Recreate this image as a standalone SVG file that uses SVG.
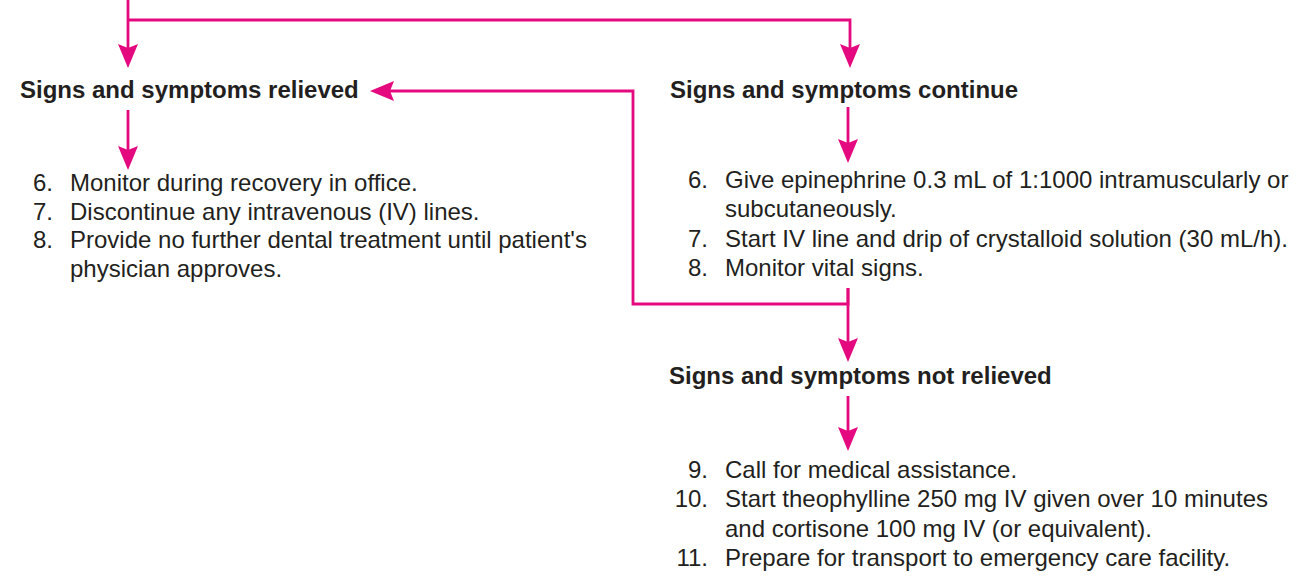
<svg xmlns="http://www.w3.org/2000/svg" width="1313" height="582" viewBox="0 0 1313 582">
  <style>
    .h { font-family: "Liberation Sans", Arial, Helvetica, sans-serif; font-size: 24px; font-weight: bold; fill: #231f20; }
    .t { font-family: "Liberation Sans", Arial, Helvetica, sans-serif; font-size: 24px; fill: #231f20; }
    .n { text-anchor: end; }
    .c { fill: none; stroke: #e5097f; stroke-width: 2.8; }
  </style>
  <defs>
    <marker id="ah" viewBox="-14 -10 24 20" markerWidth="24" markerHeight="20" refX="0" refY="0" orient="auto" markerUnits="userSpaceOnUse">
      <path d="M10,0 L-14,-10 L-10,0 L-14,10 Z" fill="#e5097f"/>
    </marker>
  </defs>
  <rect width="1313" height="582" fill="#ffffff"/>

  <g id="connectors">
    <path class="c" d="M128,0 V58" marker-end="url(#ah)"/>
    <path class="c" d="M128,20 H850 V58" marker-end="url(#ah)"/>
    <path class="c" d="M128,110 V160" marker-end="url(#ah)"/>
    <path class="c" d="M848,107 V153" marker-end="url(#ah)"/>
    <path class="c" d="M848,288 V304 H633 V91 H380" marker-end="url(#ah)"/>
    <path class="c" d="M848,288 V352" marker-end="url(#ah)"/>
    <path class="c" d="M848,396 V441" marker-end="url(#ah)"/>
  </g>

  <g id="node-relieved">
    <text class="h" x="20" y="98">Signs and symptoms relieved</text>
  </g>

  <g id="node-relieved-steps">
    <text class="t n" x="53" y="191">6.</text>
    <text class="t" x="70" y="191">Monitor during recovery in office.</text>
    <text class="t n" x="53" y="219.7">7.</text>
    <text class="t" x="70" y="219.7">Discontinue any intravenous (IV) lines.</text>
    <text class="t n" x="53" y="248.4">8.</text>
    <text class="t" x="70" y="248.4">Provide no further dental treatment until patient's</text>
    <text class="t" x="70" y="277">physician approves.</text>
  </g>

  <g id="node-continue">
    <text class="h" x="670" y="98">Signs and symptoms continue</text>
  </g>

  <g id="node-continue-steps">
    <text class="t n" x="708" y="188">6.</text>
    <text class="t" x="725" y="188">Give epinephrine 0.3 mL of 1:1000 intramuscularly or</text>
    <text class="t" x="725" y="217.3">subcutaneously.</text>
    <text class="t n" x="708" y="246.6">7.</text>
    <text class="t" x="725" y="246.6">Start IV line and drip of crystalloid solution (30 mL/h).</text>
    <text class="t n" x="708" y="276">8.</text>
    <text class="t" x="725" y="276">Monitor vital signs.</text>
  </g>

  <g id="node-not-relieved">
    <text class="h" x="669" y="384">Signs and symptoms not relieved</text>
  </g>

  <g id="node-not-relieved-steps">
    <text class="t n" x="708" y="478">9.</text>
    <text class="t" x="725" y="478">Call for medical assistance.</text>
    <text class="t n" x="708" y="507.3">10.</text>
    <text class="t" x="725" y="507.3">Start theophylline 250 mg IV given over 10 minutes</text>
    <text class="t" x="725" y="536.6">and cortisone 100 mg IV (or equivalent).</text>
    <text class="t n" x="708" y="566">11.</text>
    <text class="t" x="725" y="566">Prepare for transport to emergency care facility.</text>
  </g>
</svg>
